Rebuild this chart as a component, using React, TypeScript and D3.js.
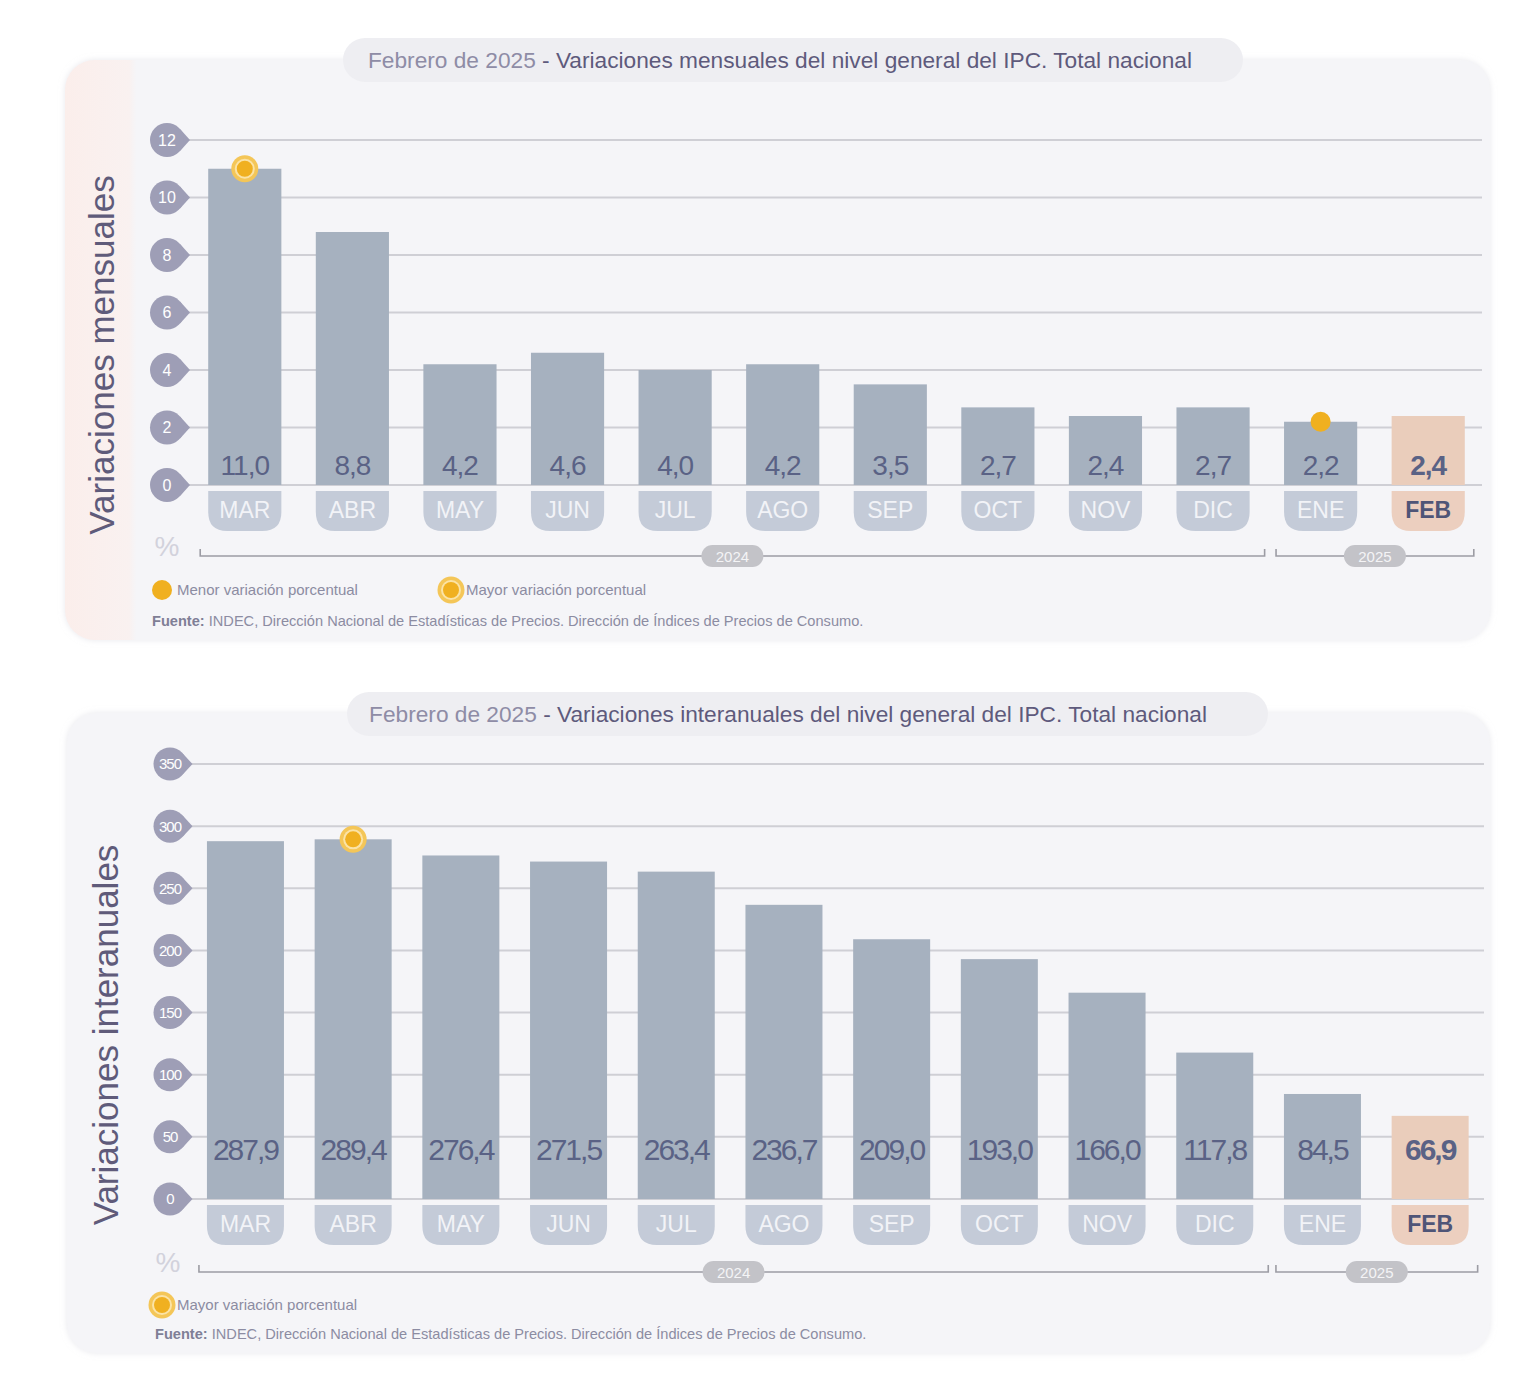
import React from "react";
import * as d3 from "d3";

const months = ["MAR", "ABR", "MAY", "JUN", "JUL", "AGO", "SEP", "OCT", "NOV", "DIC", "ENE", "FEB"];
const monthlyValues = [11.0, 8.8, 4.2, 4.6, 4.0, 4.2, 3.5, 2.7, 2.4, 2.7, 2.2, 2.4];
const annualValues = [287.9, 289.4, 276.4, 271.5, 263.4, 236.7, 209.0, 193.0, 166.0, 117.8, 84.5, 66.9];
const monthlyTicks = [0, 2, 4, 6, 8, 10, 12];
const annualTicks = [0, 50, 100, 150, 200, 250, 300, 350];
const yearLabels = ["2024", "2025"];
const yearFirstMonth = ["MAR", "ENE"];
const yearLastMonth = ["DIC", "FEB"];
const titlePrefix = "Febrero de 2025";
const monthlyTitle = " - Variaciones mensuales del nivel general del IPC. Total nacional";
const annualTitle = " - Variaciones interanuales del nivel general del IPC. Total nacional";
const monthlyAxisTitle = "Variaciones mensuales";
const annualAxisTitle = "Variaciones interanuales";
const legendMenor = "Menor variación porcentual";
const legendMayor = "Mayor variación porcentual";
const sourceLabel = "Fuente:";
const sourceText = " INDEC, Dirección Nacional de Estadísticas de Precios. Dirección de Índices de Precios de Consumo.";

const FONT = "'Liberation Sans', Arial, Helvetica, sans-serif";
const fmt = (v: number) => d3.format(".1f")(v).replace(".", ",");

const C = {
  panel: "#f5f5f8",
  pill: "#eeeef2",
  grid: "#cfcfd5",
  bar: "#a6b1bf",
  barCur: "#eacdbb",
  monthPill: "#c4cbd8",
  monthPillCur: "#eccfbf",
  badge: "#9e9eb6",
  value: "#5a6285",
  orange: "#f0b020",
  legendText: "#8c8ca2",
  bracket: "#9c9ca4",
  yearPill: "#c3c3c8",
};

function Mayor({ cx, cy }: { cx: number; cy: number }) {
  return (
    <g>
      <circle cx={cx} cy={cy} r={13.5} fill="#f4c658" />
      <circle cx={cx} cy={cy} r={10} fill="#fbe3a6" />
      <circle cx={cx} cy={cy} r={8} fill={C.orange} />
    </g>
  );
}

function Menor({ cx, cy }: { cx: number; cy: number }) {
  return <circle cx={cx} cy={cy} r={10} fill={C.orange} />;
}

function Badge({ cx, cy, r, label, fontSize }: any) {
  const a = (42 * Math.PI) / 180;
  const tip = `M${cx + r * Math.cos(a)},${cy - r * Math.sin(a)} L${cx + r + 6},${cy} L${cx + r * Math.cos(a)},${cy + r * Math.sin(a)} Z`;
  return (
    <g>
      <path d={tip} fill={C.badge} />
      <circle cx={cx} cy={cy} r={r} fill={C.badge} />
      <text x={cx} y={cy + fontSize * 0.36} textAnchor="middle" fontSize={fontSize} fill="#ffffff" letterSpacing={fontSize > 15.5 ? 0 : -1} style={{ fontFamily: FONT }}>
        {label}
      </text>
    </g>
  );
}

function Panel({ L, values, ticks, title, axisTitle, showMenor, legend }: any) {
  const x = d3.scaleBand<string>().domain(months).range(L.xRange).paddingInner(L.pad).paddingOuter(L.pad / 2);
  const y = d3.scaleLinear().domain([ticks[0], ticks[ticks.length - 1]]).range(L.yRange);
  const bw = x.bandwidth();
  const last = months.length - 1;
  const maxI = d3.maxIndex(values);
  const minI = d3.minIndex(values.slice(0, last));
  const y0 = y(0);
  const pillR = 19;
  const pillPath = (x0: number, w: number, t: number, h: number) =>
    `M${x0},${t} H${x0 + w} V${t + h - pillR} Q${x0 + w},${t + h} ${x0 + w - pillR},${t + h} H${x0 + pillR} Q${x0},${t + h} ${x0},${t + h - pillR} Z`;

  return (
    <g>
      <rect x={L.panel.x} y={L.panel.y} width={L.panel.w} height={L.panel.h} rx={30} fill={L.pink ? "url(#pinkGrad)" : C.panel} filter="url(#soft)" />
      <rect x={L.titlePill.x} y={L.titlePill.y} width={L.titlePill.w} height={L.titlePill.h} rx={22} fill={C.pill} />
      <text x={L.titleCx} y={L.titleY + 8} textAnchor="middle" fontSize={22.7} style={{ fontFamily: FONT }}>
        <tspan fill="#8e8ca6">{titlePrefix}</tspan>
        <tspan fill="#5e5a7c">{title}</tspan>
      </text>

      <text transform={`translate(${L.axisTitle[0]},${L.axisTitle[1]}) rotate(-90)`} textAnchor="middle" fontSize={35} fill="#5f5b7a" style={{ fontFamily: FONT }}>
        {axisTitle}
      </text>

      {ticks.map((t: number) => (
        <line key={"g" + t} x1={L.gridX[0]} x2={L.gridX[1]} y1={y(t)} y2={y(t)} stroke={C.grid} strokeWidth={2} />
      ))}
      {ticks.map((t: number) => (
        <Badge key={"b" + t} cx={L.badgeCx} cy={y(t)} r={L.badgeR} label={String(t)} fontSize={L.badgeFont} />
      ))}

      {months.map((m, i) => {
        const v = values[i];
        const cur = i === last;
        const bx = x(m) as number;
        return (
          <g key={m}>
            <rect x={bx} y={y(v)} width={bw} height={y0 - y(v)} fill={cur ? C.barCur : C.bar} />
            <text x={bx + bw / 2} y={y0 - L.valueOffset} textAnchor="middle" fontSize={L.valueFont} letterSpacing={L.valueSpacing} fontWeight={cur ? "bold" : "normal"} fill={C.value} style={{ fontFamily: FONT }}>
              {fmt(v)}
            </text>
            <path d={pillPath(bx, bw, y0 + L.pillGap, 40)} fill={cur ? C.monthPillCur : C.monthPill} />
            <text x={bx + bw / 2} y={y0 + L.pillGap + 27} textAnchor="middle" fontSize={23} fontWeight={cur ? "bold" : "normal"} fill={cur ? "#4f5577" : "#f2f3f7"} style={{ fontFamily: FONT }}>
              {m}
            </text>
          </g>
        );
      })}

      <Mayor cx={(x(months[maxI]) as number) + bw / 2} cy={y(values[maxI])} />
      {showMenor && <Menor cx={(x(months[minI]) as number) + bw / 2} cy={y(values[minI])} />}

      <text x={L.percent[0]} y={L.percent[1]} textAnchor="middle" fontSize={28} fill="#d2d2dc" style={{ fontFamily: FONT }}>%</text>

      {yearLabels.map((yl, k) => {
        const xs = (x(yearFirstMonth[k]) as number) - 8;
        const xe = (x(yearLastMonth[k]) as number) + bw + (k === 0 ? 15 : 9);
        const by = L.bracketY;
        const mid = (xs + xe) / 2;
        return (
          <g key={yl}>
            <path d={`M${xs},${by - 7} V${by} H${xe} V${by - 7}`} fill="none" stroke={C.bracket} strokeWidth={1.6} />
            <rect x={mid - 31} y={by - 11} width={62} height={22} rx={11} fill={C.yearPill} />
            <text x={mid} y={by + 6} textAnchor="middle" fontSize={15} fill="#f4f4f6" style={{ fontFamily: FONT }}>{yl}</text>
          </g>
        );
      })}

      {legend.map((it: any) => (
        <g key={it.label}>
          {it.kind === "menor" ? <Menor cx={it.x} cy={L.legendY} /> : <Mayor cx={it.x} cy={L.legendY} />}
          <text x={it.x + 15} y={L.legendY + 5} fontSize={15} fill={C.legendText} style={{ fontFamily: FONT }}>{it.label}</text>
        </g>
      ))}

      <text x={L.sourceX} y={L.sourceY + 5} fontSize={14.6} fill={C.legendText} style={{ fontFamily: FONT }}>
        <tspan fontWeight="bold" fill="#7f7f96">{sourceLabel}</tspan>
        <tspan>{sourceText}</tspan>
      </text>
    </g>
  );
}

const topLayout = {
  panel: { x: 65, y: 60, w: 1425, h: 580 },
  pink: true,
  titlePill: { x: 343, y: 38, w: 900, h: 44 },
  titleCx: 780,
  titleY: 60,
  xRange: [191, 1482],
  pad: 0.32,
  yRange: [485, 140],
  gridX: [184, 1482],
  badgeCx: 167,
  badgeR: 17,
  badgeFont: 16,
  axisTitle: [114, 355],
  valueOffset: 10,
  valueFont: 28,
  valueSpacing: -1,
  pillGap: 6,
  percent: [167, 556],
  bracketY: 556,
  legendY: 590,
  sourceX: 152,
  sourceY: 621,
};

const bottomLayout = {
  panel: { x: 67, y: 713, w: 1423, h: 640 },
  pink: false,
  titlePill: { x: 347, y: 692, w: 921, h: 44 },
  titleCx: 788,
  titleY: 714,
  xRange: [191.6, 1484],
  pad: 0.285,
  yRange: [1199, 764],
  gridX: [188, 1484],
  badgeCx: 170,
  badgeR: 16.5,
  badgeFont: 15,
  axisTitle: [118, 1035],
  valueOffset: 39,
  valueFont: 30,
  valueSpacing: -2,
  pillGap: 6,
  percent: [168, 1272],
  bracketY: 1272,
  legendY: 1305,
  sourceX: 155,
  sourceY: 1334,
};

export default function App() {
  return (
    <div style={{ position: "absolute", left: 0, top: 0 }}>
      <svg width={1536} height={1376} viewBox="0 0 1536 1376" style={{ display: "block", background: "#ffffff" }}>
        <defs>
          <linearGradient id="pinkGrad" x1="0" x2="1" y1="0" y2="0">
            <stop offset="0" stopColor="#fbeeeb" />
            <stop offset="0.045" stopColor="#f9f1f0" />
            <stop offset="0.05" stopColor={C.panel} />
            <stop offset="1" stopColor={C.panel} />
          </linearGradient>
          <filter id="soft" x="-5%" y="-5%" width="110%" height="110%">
            <feDropShadow dx="0" dy="0" stdDeviation="3" floodColor="#d8d8e0" floodOpacity="0.6" />
          </filter>
        </defs>
        <Panel
          L={topLayout}
          values={monthlyValues}
          ticks={monthlyTicks}
          title={monthlyTitle}
          axisTitle={monthlyAxisTitle}
          showMenor={true}
          legend={[
            { kind: "menor", label: legendMenor, x: 162 },
            { kind: "mayor", label: legendMayor, x: 451 },
          ]}
        />
        <Panel
          L={bottomLayout}
          values={annualValues}
          ticks={annualTicks}
          title={annualTitle}
          axisTitle={annualAxisTitle}
          showMenor={false}
          legend={[{ kind: "mayor", label: legendMayor, x: 162 }]}
        />
      </svg>
    </div>
  );
}
